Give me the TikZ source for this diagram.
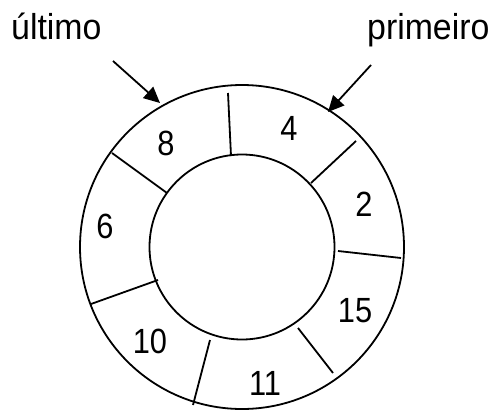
\documentclass[tikz,border=0pt]{standalone}
\usepackage{fontspec}
\setmainfont{Liberation Sans}
\usetikzlibrary{arrows.meta}
\newcommand{\narrowtxt}[2]{\scalebox{#1}[1]{#2}}
\begin{document}
\begin{tikzpicture}[x=1pt,y=-1pt,
  ring/.style={line width=1.8pt},
  divider/.style={line width=1.8pt},
  pointer/.style={line width=1.8pt,-{Triangle[length=16pt,width=15pt]}},
  lbl/.style={font=\fontsize{36}{42}\selectfont,inner sep=0pt,anchor=base west},
  num/.style={font=\fontsize{35}{40}\selectfont,inner sep=0pt,anchor=base}]
\useasboundingbox (0,0) rectangle (497,412);
\coordinate (c) at (242,247);
\draw[ring] (c) circle[radius=162pt];
\draw[ring] (c) circle[radius=92.5pt];
% dividers
\coordinate (a1) at (228,93);  \coordinate (b1) at (231,156);
\coordinate (a2) at (356,141); \coordinate (b2) at (311,183);
\coordinate (a3) at (338,251); \coordinate (b3) at (401,258);
\coordinate (a4) at (298,328); \coordinate (b4) at (333,373);
\coordinate (a5) at (210,340); \coordinate (b5) at (193,405);
\coordinate (a6) at (158,280); \coordinate (b6) at (91,304);
\coordinate (a7) at (112,153); \coordinate (b7) at (167,193);
\foreach \i in {1,...,7} \draw[divider] (a\i) -- (b\i);
% values
\node[num] (n4) at (289,140) {\narrowtxt{0.88}{4}};
\node[num] (n8) at (166,155) {\narrowtxt{0.88}{8}};
\node[num] (n2) at (364,216) {\narrowtxt{0.88}{2}};
\node[num] (n6) at (105,238) {\narrowtxt{0.88}{6}};
\node[num] (n15) at (355,322) {\narrowtxt{0.88}{15}};
\node[num] (n10) at (150,353) {\narrowtxt{0.88}{10}};
\node[num] (n11) at (265,395) {\narrowtxt{0.88}{11}};
% labels and pointers
\node[lbl] (ult) at (11,40) {\narrowtxt{0.94}{último}};
\node[lbl] (pri) at (367,40) {\narrowtxt{0.94}{primeiro}};
\coordinate (ultS) at (113,61);  \coordinate (ultT) at (160,103);
\coordinate (priS) at (371,65);  \coordinate (priT) at (328,112);
\draw[pointer] (ultS) -- (ultT);
\draw[pointer] (priS) -- (priT);
\end{tikzpicture}
\end{document}
